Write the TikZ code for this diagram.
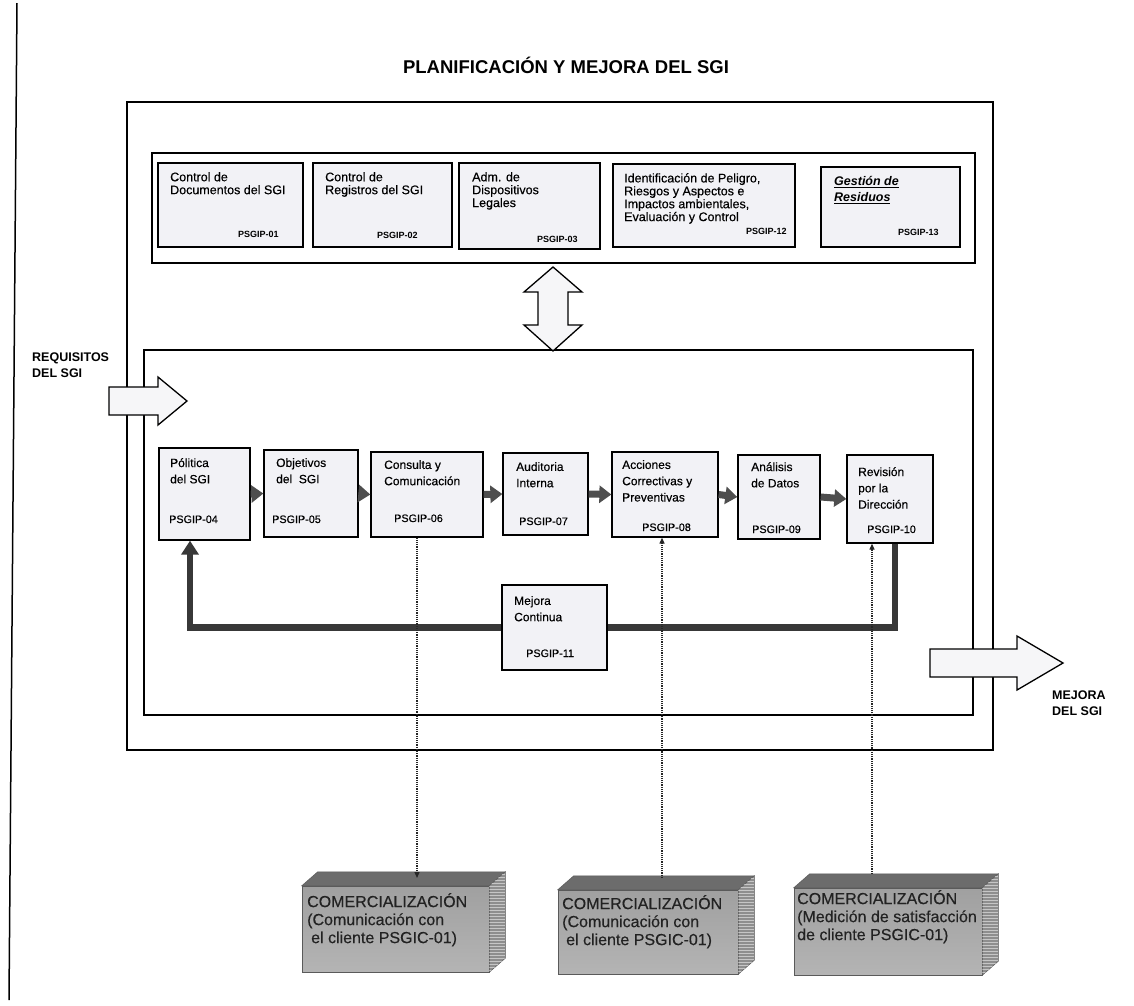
\documentclass[tikz,border=0pt]{standalone}
\usepackage{fontspec}
\setmainfont{Liberation Sans}[UprightFeatures={FakeBold=0.35}]
\usetikzlibrary{arrows.meta,calc}
\definecolor{boxfill}{HTML}{F2F2F6}
\definecolor{arrfill}{HTML}{F6F6F8}
\definecolor{flowgray}{HTML}{4E4E4E}
\definecolor{fbgray}{HTML}{383838}
\definecolor{cubetop}{HTML}{6C6C6C}
\definecolor{cubeside}{HTML}{8E8E8E}
\definecolor{cubeedge}{HTML}{5A5A5A}
\definecolor{cubetext}{HTML}{222222}
\begin{document}
\begin{tikzpicture}[x=1pt,y=-1pt,
  frame/.style={draw, line width=1.6pt},
  tbox/.style={draw, line width=1.3pt, fill=boxfill, inner sep=0pt},
  ttext/.style={anchor=north west, inner sep=0pt, align=left, font=\fontsize{12.5}{12.9}\selectfont},
  tlab/.style={anchor=base west, inner sep=0pt, font=\bfseries\fontsize{9}{10}\selectfont},
  ptext/.style={anchor=north west, inner sep=0pt, align=left, font=\fontsize{12}{16.3}\selectfont},
  plab/.style={anchor=base west, inner sep=0pt, font=\fontsize{10.8}{12}\selectfont},
  flow/.style={line width=7pt, flowgray, -{Triangle[length=12pt,width=17pt]}},
  fb/.style={line width=6.5pt, fbgray, -{Triangle[length=14pt,width=17pt]}},
  dotc/.style={line width=1.2pt, densely dotted, gray!30!black, -{Triangle[length=6pt,width=5pt]}},
  blockarrow/.style={draw, line width=1.3pt, fill=arrfill, line join=miter},
  cube/.style={draw=cubeedge, line width=0.5pt, top color={rgb,255:red,160;green,160;blue,160}, bottom color={rgb,255:red,180;green,180;blue,180}, inner sep=0pt},
  ctext/.style={anchor=north west, inner sep=0pt, align=left, text=cubetext, font=\fontsize{16}{18}\selectfont},
  side/.style={fill=cubeside, draw=cubeedge, line width=0.5pt},
  topf/.style={fill=cubetop, draw=cubeedge, line width=0.5pt},
  biglab/.style={anchor=north west, inner sep=0pt, align=left, font=\bfseries\fontsize{12.5}{16}\selectfont}
]
\useasboundingbox[fill=white] (0,0) rectangle (1134,1005);

% left margin rule
\draw[line width=1.5pt] (17,3) -- (9,1000);

% title
\node[anchor=base, inner sep=0pt, font=\bfseries\fontsize{18.5}{20}\selectfont] (title) at (566,73) {PLANIFICACIÓN Y MEJORA DEL SGI};

% frames
\draw[frame] (127,102) rectangle (993,750);
\draw[line width=2.2pt] (152,153) rectangle (975,263);
\draw[frame] (144,350) rectangle (973,715);

% top support processes
\node[tbox, minimum width=145, minimum height=84] (tb1) at (230.5,205) {};
\node[tbox, minimum width=139, minimum height=84] (tb2) at (382.5,205) {};
\node[tbox, minimum width=141, minimum height=86] (tb3) at (529.5,206) {};
\node[tbox, minimum width=182, minimum height=83] (tb4) at (704,205.5) {};
\node[tbox, minimum width=139, minimum height=80] (tb5) at (890.5,207) {};

\node[ttext] (tt1) at (170,172) {Control de\\Documentos del SGI};
\node[ttext] (tt2) at (325,172) {Control de\\Registros del SGI};
\node[ttext] (tt3) at (472,172) {Adm. de\\Dispositivos\\Legales};
\node[ttext] (tt4) at (624,173) {Identificación de Peligro,\\Riesgos y Aspectos e\\Impactos ambientales,\\Evaluación y Control};
\node[ttext, font=\bfseries\itshape\fontsize{12.5}{16}\selectfont] (tt5) at (834,176) {\underline{Gestión de}\\\underline{Residuos}};

\node[tlab] (tl1) at (238,237) {PSGIP-01};
\node[tlab] (tl2) at (377,238) {PSGIP-02};
\node[tlab] (tl3) at (537,242) {PSGIP-03};
\node[tlab] (tl4) at (746,234) {PSGIP-12};
\node[tlab] (tl5) at (898,235) {PSGIP-13};

% feedback loop (drawn before boxes)
\node[tbox, minimum width=91, minimum height=92] (pol) at (204.5,494) {};
\node[tbox, minimum width=86, minimum height=88] (rev) at (890,499) {};
\draw[fb] ([xshift=5pt]rev.south) -- ++(0,84) -| ([xshift=-14.5pt]pol.south);

% main process boxes
\node[tbox, minimum width=94, minimum height=87] (obj) at (311,493.5) {};
\node[tbox, minimum width=112, minimum height=85] (con) at (427,494.5) {};
\node[tbox, minimum width=85, minimum height=82] (aud) at (545.5,494) {};
\node[tbox, minimum width=106, minimum height=85] (acc) at (665,494.5) {};
\node[tbox, minimum width=82, minimum height=84] (ana) at (779,497) {};
\node[tbox, minimum width=105, minimum height=85] (mej) at (554.5,627.5) {};

\draw[flow] (pol.east) -- (obj.west);
\draw[flow] (obj.east) -- (con.west);
\draw[flow] (con.east) -- (aud.west);
\draw[flow] (aud.east) -- (acc.west);
\draw[flow] (acc.east) -- (ana.west);
\draw[flow] (ana.east) -- (rev.west);

\node[ptext] (pt1) at (170,458) {Pólitica\\del SGI};
\node[ptext] (pt2) at (276,458) {Objetivos\\del\ \ SGI};
\node[ptext] (pt3) at (384,460) {Consulta y\\Comunicación};
\node[ptext] (pt4) at (516,462) {Auditoria\\Interna};
\node[ptext] (pt5) at (622,460) {Acciones\\Correctivas y\\Preventivas};
\node[ptext] (pt6) at (751,462) {Análisis\\de Datos};
\node[ptext] (pt7) at (858,467) {Revisión\\por la\\Dirección};
\node[ptext] (pt8) at (514,596) {Mejora\\Continua};

\node[plab] (pl1) at (169,523) {PSGIP-04};
\node[plab] (pl2) at (272,523) {PSGIP-05};
\node[plab] (pl3) at (394,522) {PSGIP-06};
\node[plab] (pl4) at (519,525) {PSGIP-07};
\node[plab] (pl5) at (642,531) {PSGIP-08};
\node[plab] (pl6) at (752,533) {PSGIP-09};
\node[plab] (pl7) at (867,533) {PSGIP-10};
\node[plab] (pl8) at (526,657) {PSGIP-11};

% 3D boxes
\node[cube, minimum width=187, minimum height=86] (k1) at (395.5,929) {};
\node[cube, minimum width=180, minimum height=84] (k2) at (648,932) {};
\node[cube, minimum width=188, minimum height=87] (k3) at (888,931.5) {};
\foreach \k in {k1,k2,k3}{
  \draw[topf] (\k.north west) -- ++(16,-14) -- ($(\k.north east)+(16,-14)$) -- (\k.north east) -- cycle;
  \draw[side] (\k.north east) -- ++(16,-14) -- ($(\k.south east)+(16,-14)$) -- (\k.south east) -- cycle;
  \begin{scope}
    \clip (\k.north east) -- ++(16,-14) -- ($(\k.south east)+(16,-14)$) -- (\k.south east) -- cycle;
    \foreach \i in {0,...,33}{
      \draw[gray!45, line width=0.5pt] ($(\k.north east)+(0,{-12+\i*3})$) -- ++(16,0);
    }
  \end{scope}
}
\node[ctext] (kt1) at (307,893) {COMERCIALIZACIÓN\\(Comunicación con\\\hspace{4pt}el cliente PSGIC-01)};
\node[ctext] (kt2) at (562,895) {COMERCIALIZACIÓN\\(Comunicación con\\\hspace{4pt}el cliente PSGIC-01)};
\node[ctext] (kt3) at (797,890) {COMERCIALIZACIÓN\\(Medición de satisfacción\\de cliente PSGIC-01)};

% dotted links
\coordinate (k1t) at (417,878);
\coordinate (k2t) at (662,878);
\coordinate (k3t) at (872,874);
\draw[dotc] (con.south -| k1t) -- (k1t);
\draw[dotc] (k2t) -- (k2t |- acc.south);
\draw[dotc] (k3t) -- (k3t |- rev.south);

% block arrows
\draw[blockarrow] (553,267) -- (582,292) -- (568,292) -- (568,325) -- (582,325) -- (553,351) -- (524,325) -- (538,325) -- (538,292) -- (524,292) -- cycle;
\draw[blockarrow] (109,387) -- (158,387) -- (158,377) -- (187,401) -- (158,425) -- (158,415) -- (109,415) -- cycle;
\draw[blockarrow] (930,649) -- (1017,649) -- (1017,636) -- (1063,663) -- (1017,690) -- (1017,677) -- (930,677) -- cycle;

\node[biglab] (req) at (32,353) {REQUISITOS\\DEL SGI};
\node[biglab] (mejl) at (1052,691) {MEJORA\\DEL SGI};
\end{tikzpicture}
\end{document}
